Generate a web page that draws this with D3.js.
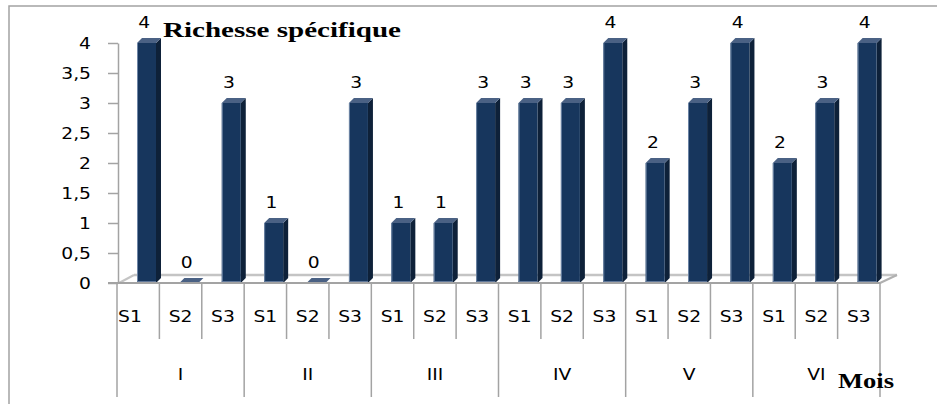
<!DOCTYPE html>
<html>
<head>
<meta charset="utf-8">
<script src="https://cdn.jsdelivr.net/npm/d3@7"></script>
<style>
  html, body { margin: 0; padding: 0; background: #fff; }
  svg { display: block; }
</style>
</head>
<body>
<svg id="chart" width="937" height="405"></svg>
<script>
// ---- data ----
const months = ["I", "II", "III", "IV", "V", "VI"];
const stations = ["S1", "S2", "S3"];
const s1Values = [4, 1, 1, 3, 2, 2];
const s2Values = [0, 0, 1, 3, 3, 3];
const s3Values = [3, 3, 3, 4, 4, 4];
const yTickValues = [0, 0.5, 1, 1.5, 2, 2.5, 3, 3.5, 4];
const titleText = "Richesse spécifique";
const xTitleText = "Mois";

(function () {
const seriesByStation = { S1: s1Values, S2: s2Values, S3: s3Values };
const data = [];
months.forEach((m, mi) => {
  stations.forEach(s => {
    data.push({ month: m, station: s, key: m + "-" + s, value: seriesByStation[s][mi] });
  });
});

// ---- layout ----
const svg = d3.select("#chart");
const pLeft = 117, pRight = 880, pTop = 43, pBottom = 283;
const x = d3.scaleBand().domain(data.map(d => d.key)).range([pLeft, pRight]).padding(0);
const y = d3.scaleLinear().domain([0, 4]).range([pBottom, pTop]);
const bw = x.bandwidth();
const grey = "#a3a3a3";
const sx = 1.17; // horizontal stretch of the text
const fs = 16;
const ff = "DejaVu Sans, Verdana, sans-serif";

// frame
svg.append("path").attr("d", "M9,404 L9,6 L937,6")
  .attr("fill", "none").attr("stroke", grey).attr("stroke-width", 1.5);

// floor (3D base)
const fdx = 17, fdy = 8;
svg.append("line").attr("x1", pLeft + fdx).attr("x2", pRight + fdx)
  .attr("y1", pBottom - fdy).attr("y2", pBottom - fdy)
  .attr("stroke", "#c4c4c4").attr("stroke-width", 2.5);
svg.append("line").attr("x1", pLeft + 2).attr("y1", pBottom)
  .attr("x2", pLeft + fdx).attr("y2", pBottom - fdy)
  .attr("stroke", "#c4c4c4").attr("stroke-width", 2);
svg.append("line").attr("x1", pRight).attr("y1", pBottom)
  .attr("x2", pRight + fdx).attr("y2", pBottom - fdy)
  .attr("stroke", "#b0b0b0").attr("stroke-width", 2);

// bars
const off = 20, fw = 19, dx = 5, dy = 5;
const bars = svg.append("g").selectAll("g").data(data).join("g");
bars.append("polygon") // side
  .attr("points", d => {
    const x1 = x(d.key) + off + fw, yT = y(d.value), yB = y(0);
    return [[x1, yT], [x1 + dx, yT - dy], [x1 + dx, yB - dy], [x1, yB]].join(" ");
  })
  .attr("fill", "#0e2139");
bars.append("rect") // front
  .attr("x", d => x(d.key) + off)
  .attr("y", d => y(d.value))
  .attr("width", fw)
  .attr("height", d => y(0) - y(d.value))
  .attr("fill", "#17365d");
bars.append("line") // light left edge
  .attr("x1", d => x(d.key) + off + 0.5).attr("x2", d => x(d.key) + off + 0.5)
  .attr("y1", d => y(d.value)).attr("y2", d => y(0))
  .attr("stroke", "#6f86a6").attr("stroke-width", 1);
bars.append("line") // light bottom edge
  .attr("x1", d => x(d.key) + off).attr("x2", d => x(d.key) + off + fw)
  .attr("y1", d => y(0) - 1).attr("y2", d => y(0) - 1)
  .attr("stroke", "#5f7799").attr("stroke-width", 2)
  .attr("opacity", d => d.value > 0 ? 1 : 0);
bars.append("polygon") // top
  .attr("points", d => {
    const x0 = x(d.key) + off, x1 = x0 + fw, yT = y(d.value);
    return [[x0, yT], [x0 + dx, yT - dy], [x1 + dx, yT - dy], [x1, yT]].join(" ");
  })
  .attr("fill", "#4a6184");

// front floor edge
svg.append("line").attr("x1", pLeft - 9).attr("x2", pRight)
  .attr("y1", pBottom).attr("y2", pBottom)
  .attr("stroke", grey).attr("stroke-width", 2);

// value labels
svg.append("g").selectAll("text").data(data).join("text")
  .attr("transform", d => `translate(${x(d.key) + bw / 2 + 6},${y(d.value) - 15}) scale(${sx},1)`)
  .attr("text-anchor", "middle")
  .attr("font-family", ff)
  .attr("font-size", fs)
  .attr("fill", "#000")
  .text(d => d.value);

// y axis
const yAxis = d3.axisLeft(y).tickValues(yTickValues)
  .tickFormat(d => String(d).replace(".", ","))
  .tickSize(10).tickSizeOuter(0).tickPadding(16);
const gy = svg.append("g").attr("transform", `translate(${pLeft + 1},0)`).call(yAxis);
gy.select(".domain").attr("stroke", grey).attr("stroke-width", 1.5);
gy.selectAll(".tick line").attr("stroke", grey).attr("stroke-width", 1.5);
gy.selectAll(".tick text")
  .attr("x", -27 / sx)
  .attr("transform", `scale(${sx},1)`)
  .attr("font-family", ff)
  .attr("font-size", fs)
  .attr("fill", "#000");

// category separators
const edges = data.map((d, i) => ({ x: x(d.key), group: i % stations.length === 0 }));
edges.push({ x: pRight, group: true });
svg.append("g").selectAll("line").data(edges).join("line")
  .attr("x1", d => d.x).attr("x2", d => d.x)
  .attr("y1", pBottom).attr("y2", d => d.group ? 397 : 339)
  .attr("stroke", grey).attr("stroke-width", 1.5);

// station labels
svg.append("g").selectAll("text").data(data).join("text")
  .attr("transform", (d, i) => i === 0
    ? `translate(${x(d.key) + 1},322) scale(${sx},1)`
    : `translate(${x(d.key) + bw / 2},322) scale(${sx},1)`)
  .attr("text-anchor", (d, i) => i === 0 ? "start" : "middle")
  .attr("font-family", ff)
  .attr("font-size", fs)
  .attr("fill", "#000")
  .text(d => d.station);

// month labels
svg.append("g").selectAll("text").data(months).join("text")
  .attr("transform", m => {
    const a = x(m + "-" + stations[0]);
    const b = x(m + "-" + stations[stations.length - 1]) + bw;
    return `translate(${(a + b) / 2},380) scale(${sx},1)`;
  })
  .attr("text-anchor", "middle")
  .attr("font-family", ff)
  .attr("font-size", fs)
  .attr("fill", "#000")
  .text(m => m);

// titles
svg.append("text").attr("x", 163).attr("y", 37)
  .attr("font-family", "Liberation Serif, Times New Roman, serif")
  .attr("font-weight", "bold").attr("font-size", 21)
  .attr("textLength", 238).attr("lengthAdjust", "spacingAndGlyphs")
  .text(titleText);
svg.append("text").attr("x", 838).attr("y", 388)
  .attr("font-family", "Liberation Serif, Times New Roman, serif")
  .attr("font-weight", "bold").attr("font-size", 21)
  .attr("textLength", 56).attr("lengthAdjust", "spacingAndGlyphs")
  .text(xTitleText);
})();
</script>
</body>
</html>
